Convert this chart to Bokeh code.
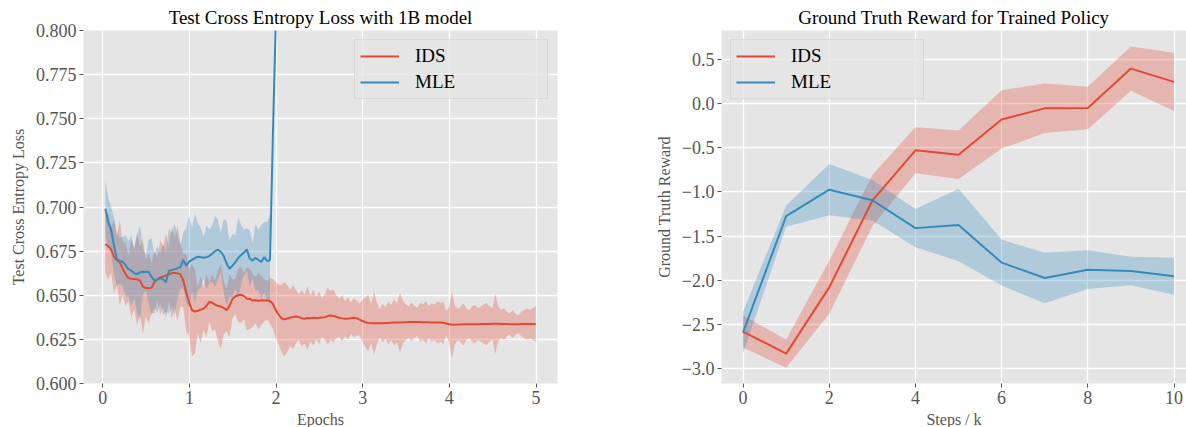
import numpy as np
from bokeh.plotting import figure
from bokeh.layouts import row
from bokeh.models import (FixedTicker, Legend, LegendItem, Range1d,
                          NumeralTickFormatter, CustomJSTickFormatter)
from bokeh.embed import file_html
from bokeh.resources import INLINE

# ---------------- data: left panel (test cross entropy loss vs epochs) -------------
ids_loss_mean = [
    0.6790, 0.6778, 0.6760, 0.6718, 0.6698, 0.6686, 0.6650, 0.6620, 0.6597, 0.6594,
    0.6592, 0.6590, 0.6584, 0.6550, 0.6541, 0.6539, 0.6542, 0.6575, 0.6592, 0.6601,
    0.6606, 0.6612, 0.6620, 0.6625, 0.6628, 0.6624, 0.6618, 0.6582, 0.6515, 0.6460,
    0.6415, 0.6408, 0.6412, 0.6418, 0.6424, 0.6440, 0.6462, 0.6458, 0.6446, 0.6440,
    0.6436, 0.6428, 0.6416, 0.6440, 0.6478, 0.6494, 0.6500, 0.6503, 0.6495, 0.6480,
    0.6479, 0.6470, 0.6472, 0.6468, 0.6472, 0.6470, 0.6471, 0.6468, 0.6452, 0.6415,
    0.6390, 0.6370, 0.6364, 0.6368, 0.6372, 0.6376, 0.6380, 0.6376, 0.6370, 0.6367,
    0.6371, 0.6370, 0.6372, 0.6371, 0.6372, 0.6374, 0.6376, 0.6382, 0.6385, 0.6383,
    0.6378, 0.6372, 0.6369, 0.6367, 0.6368, 0.6370, 0.6373, 0.6370, 0.6362, 0.6354,
    0.6347, 0.6343, 0.6342, 0.6341, 0.6341, 0.6342, 0.6342, 0.6343, 0.6343, 0.6344,
    0.6345, 0.6345, 0.6346, 0.6347, 0.6347, 0.6348, 0.6349, 0.6349, 0.6349, 0.6348,
    0.6347, 0.6347, 0.6347, 0.6346, 0.6346, 0.6346, 0.6346, 0.6344, 0.6340, 0.6336,
    0.6334, 0.6333, 0.6334, 0.6334, 0.6335, 0.6335, 0.6335, 0.6336, 0.6336, 0.6336,
    0.6337, 0.6337, 0.6337, 0.6337, 0.6338, 0.6338, 0.6338, 0.6337, 0.6337, 0.6337,
    0.6336, 0.6336, 0.6336, 0.6336, 0.6337, 0.6337, 0.6337, 0.6337, 0.6337, 0.6337,
]
ids_loss_std = [
    0.016, 0.019, 0.013, 0.021, 0.014, 0.024, 0.015, 0.018, 0.013, 0.022,
    0.017, 0.026, 0.019, 0.027, 0.016, 0.020, 0.014, 0.018, 0.012, 0.021,
    0.017, 0.024, 0.015, 0.026, 0.020, 0.027, 0.018, 0.015, 0.022, 0.019,
    0.026, 0.024, 0.013, 0.019, 0.012, 0.018, 0.011, 0.016, 0.014, 0.020,
    0.024, 0.015, 0.012, 0.018, 0.011, 0.010, 0.015, 0.016, 0.013, 0.018,
    0.017, 0.015, 0.013, 0.016, 0.014, 0.012, 0.011, 0.013, 0.014, 0.016,
    0.017, 0.019, 0.021, 0.019, 0.016, 0.018, 0.015, 0.013, 0.016, 0.014,
    0.018, 0.013, 0.016, 0.012, 0.015, 0.011, 0.013, 0.016, 0.014, 0.015,
    0.012, 0.011, 0.013, 0.010, 0.012, 0.009, 0.011, 0.010, 0.009, 0.012,
    0.014, 0.016, 0.011, 0.018, 0.012, 0.008, 0.011, 0.009, 0.012, 0.010,
    0.013, 0.011, 0.017, 0.012, 0.010, 0.009, 0.011, 0.009, 0.008, 0.011,
    0.010, 0.012, 0.009, 0.011, 0.010, 0.012, 0.011, 0.012, 0.007, 0.010,
    0.019, 0.011, 0.009, 0.010, 0.012, 0.009, 0.008, 0.010, 0.011, 0.009,
    0.010, 0.011, 0.012, 0.010, 0.009, 0.017, 0.010, 0.008, 0.009, 0.007,
    0.006, 0.008, 0.006, 0.005, 0.007, 0.008, 0.009, 0.008, 0.009, 0.010,
]
mle_loss_mean = [
    0.6990, 0.6915, 0.6870, 0.6780, 0.6702, 0.6695, 0.6690, 0.6670, 0.6648, 0.6640,
    0.6625, 0.6620, 0.6630, 0.6633, 0.6632, 0.6633, 0.6605, 0.6582, 0.6588, 0.6597,
    0.6590, 0.6575, 0.6638, 0.6643, 0.6648, 0.6654, 0.6660, 0.6700, 0.6668, 0.6690,
    0.6700, 0.6710, 0.6718, 0.6716, 0.6713, 0.6716, 0.6722, 0.6735, 0.6750, 0.6758,
    0.6745, 0.6722, 0.6680, 0.6650, 0.6668, 0.6688, 0.6710, 0.6728, 0.6742, 0.6760,
    0.6708, 0.6696, 0.6712, 0.6700, 0.6688, 0.6716, 0.6694, 0.6698, 0.7400, 0.8050,
    0.8700,
]
mle_loss_std = [
    0.016, 0.014, 0.013, 0.016, 0.015, 0.013, 0.014, 0.017, 0.016, 0.020,
    0.014, 0.022, 0.027, 0.013, 0.010, 0.018, 0.022, 0.015, 0.019, 0.014,
    0.020, 0.017, 0.024, 0.021, 0.026, 0.018, 0.012, 0.016, 0.021, 0.026,
    0.018, 0.025, 0.019, 0.017, 0.012, 0.018, 0.015, 0.016, 0.020, 0.017,
    0.011, 0.021, 0.024, 0.016, 0.018, 0.015, 0.023, 0.017, 0.013, 0.012,
    0.016, 0.010, 0.019, 0.017, 0.021, 0.020, 0.022, 0.026,
]
# evaluation every 1/30 epoch, starting at 0.03
ids_epochs = [round(0.03 + i / 30, 4) for i in range(len(ids_loss_mean))]
mle_epochs = [round(0.03 + i / 30, 4) for i in range(len(mle_loss_mean))]

# ---------------- data: right panel (ground truth reward vs steps) ----------------
steps_k = [0, 1, 2, 3, 4, 5, 6, 7, 8, 9, 10]
ids_reward_mean = [-2.58, -2.83, -2.08, -1.10, -0.53, -0.58, -0.18, -0.055, -0.05, 0.395, 0.245]
ids_reward_std = [0.18, 0.16, 0.30, 0.29, 0.26, 0.275, 0.33, 0.28, 0.24, 0.25, 0.33]
mle_reward_mean = [-2.59, -1.275, -0.975, -1.095, -1.41, -1.375, -1.80, -1.975, -1.88, -1.895, -1.955]
mle_reward_std = [0.235, 0.12, 0.29, 0.23, 0.215, 0.41, 0.26, 0.285, 0.22, 0.16, 0.21]

left_xticks = [0, 1, 2, 3, 4, 5]
left_yticks = [0.600, 0.625, 0.650, 0.675, 0.700, 0.725, 0.750, 0.775, 0.800]
right_xticks = [0, 2, 4, 6, 8, 10]
right_yticks = [-3.0, -2.5, -2.0, -1.5, -1.0, -0.5, 0.0, 0.5]

RED = "#E24A33"
BLUE = "#348ABD"
BG = "#E5E5E5"
FONT = "Liberation Serif"
GRAY = "#555555"


def style(p, title):
    p.background_fill_color = BG
    p.border_fill_color = "white"
    p.outline_line_color = None
    p.grid.grid_line_color = "white"
    p.grid.grid_line_width = 1.3
    p.title.text = title
    p.title.align = "center"
    p.title.text_font = FONT
    p.title.text_font_size = "19px"
    p.title.text_font_style = "normal"
    p.title.text_color = "black"
    p.title.standoff = 6
    for ax in p.axis:
        ax.axis_line_color = None
        ax.major_tick_line_color = GRAY
        ax.major_tick_out = 4
        ax.major_tick_in = 0
        ax.minor_tick_line_color = None
        ax.major_label_text_font = FONT
        ax.major_label_text_font_size = "18px"
        ax.major_label_text_color = GRAY
        ax.major_label_standoff = 3
        ax.axis_label_text_font = FONT
        ax.axis_label_text_font_size = "16px"
        ax.axis_label_text_color = GRAY
        ax.axis_label_text_font_style = "normal"
        ax.axis_label_standoff = 4


def add_legend(p, r_ids, r_mle, loc):
    leg = Legend(
        items=[LegendItem(label="IDS", renderers=[r_ids]),
               LegendItem(label="MLE", renderers=[r_mle])],
        location=loc, margin=9, padding=5, spacing=4,
        glyph_width=39, glyph_height=22, label_height=22, label_width=127,
        label_standoff=16, label_text_font=FONT, label_text_font_size="19px",
        label_text_color="black",
        background_fill_color=BG, background_fill_alpha=0.8,
        border_line_color="#CCCCCC", border_line_width=1,
    )
    p.add_layout(leg)


# ---------------- left figure ----------------
p1 = figure(frame_width=474, frame_height=353, min_border_left=83, min_border_right=43,
            min_border_top=30, min_border_bottom=44,
            x_range=Range1d(-0.222, 5.248), y_range=Range1d(0.6, 0.8),
            output_backend="svg", toolbar_location=None,
            x_axis_label="Epochs", y_axis_label="Test Cross Entropy Loss")
style(p1, "Test Cross Entropy Loss with 1B model")
p1.xaxis.ticker = FixedTicker(ticks=left_xticks)
p1.yaxis.ticker = FixedTicker(ticks=left_yticks)
p1.yaxis.formatter = NumeralTickFormatter(format="0.000")
p1.yaxis.axis_label_standoff = 6

ids_lo = [m - s for m, s in zip(ids_loss_mean, ids_loss_std)]
ids_hi = [m + s for m, s in zip(ids_loss_mean, ids_loss_std)]
nb = len(mle_loss_std)
mle_lo = [m - s for m, s in zip(mle_loss_mean[:nb], mle_loss_std)]
mle_hi = [m + s for m, s in zip(mle_loss_mean[:nb], mle_loss_std)]

p1.varea(x=ids_epochs, y1=ids_lo, y2=ids_hi, fill_color=RED, fill_alpha=0.3)
p1.varea(x=mle_epochs[:nb], y1=mle_lo, y2=mle_hi, fill_color=BLUE, fill_alpha=0.3)
r1 = p1.line(ids_epochs, ids_loss_mean, line_color=RED, line_width=2)
r2 = p1.line(mle_epochs, mle_loss_mean, line_color=BLUE, line_width=2)
add_legend(p1, r1, r2, "top_right")

# ---------------- right figure ----------------
p2 = figure(frame_width=465, frame_height=353, min_border_left=121, min_border_right=0,
            min_border_top=30, min_border_bottom=44,
            x_range=Range1d(-0.5, 10.29), y_range=Range1d(-3.168, 0.826),
            output_backend="svg", toolbar_location=None,
            x_axis_label="Steps / k", y_axis_label="Ground Truth Reward")
style(p2, "Ground Truth Reward for Trained Policy")
p2.xaxis.ticker = FixedTicker(ticks=right_xticks)
p2.yaxis.ticker = FixedTicker(ticks=right_yticks)
p2.yaxis.formatter = CustomJSTickFormatter(code="return tick.toFixed(1).replace('-', '\\u2212');")
p2.yaxis.axis_label_standoff = 6

p2.varea(x=steps_k, y1=[m - s for m, s in zip(ids_reward_mean, ids_reward_std)],
         y2=[m + s for m, s in zip(ids_reward_mean, ids_reward_std)],
         fill_color=RED, fill_alpha=0.3)
p2.varea(x=steps_k, y1=[m - s for m, s in zip(mle_reward_mean, mle_reward_std)],
         y2=[m + s for m, s in zip(mle_reward_mean, mle_reward_std)],
         fill_color=BLUE, fill_alpha=0.3)
s1 = p2.line(steps_k, ids_reward_mean, line_color=RED, line_width=2)
s2 = p2.line(steps_k, mle_reward_mean, line_color=BLUE, line_width=2)
add_legend(p2, s1, s2, "top_left")

layout = row(p1, p2, spacing=0)
open("out.html", "w").write(file_html(layout, INLINE))
